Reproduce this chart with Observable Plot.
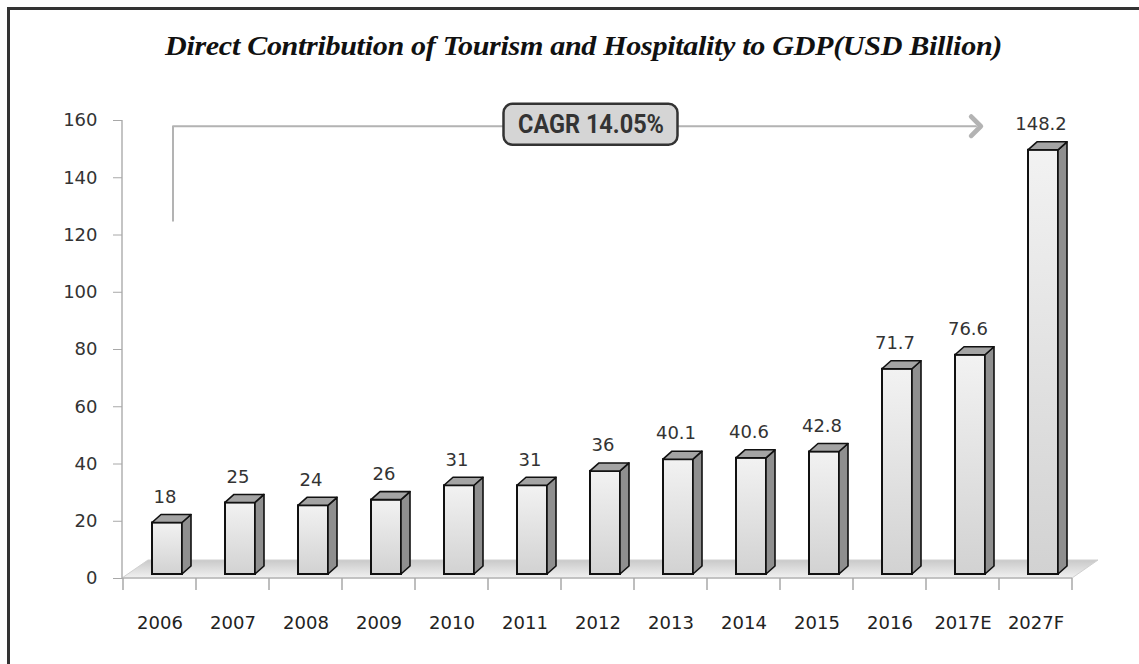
<!DOCTYPE html>
<html>
<head>
<meta charset="utf-8">
<script src="https://cdn.jsdelivr.net/npm/d3@7"></script>
<script src="https://cdn.jsdelivr.net/npm/@observablehq/plot@0.6"></script>
<style>
  html, body { margin: 0; padding: 0; background: #fff; }
  #wrap { position: relative; width: 1139px; height: 664px; overflow: hidden; }
  #border { position: absolute; left: 7px; top: 7px; right: -10px; bottom: -10px;
            border-left: 3px solid #333; border-top: 3px solid #333; }
  #title { position: absolute; top: 31px; left: 165px; transform-origin: 0 0;
           font-family: "Liberation Serif", serif; font-style: italic; font-weight: bold;
           font-size: 27px; color: #111; white-space: nowrap; letter-spacing: -0.3px; display: inline-block; }
  #chart { position: absolute; left: 0; top: 0; }
</style>
</head>
<body>
<div id="wrap">
  <div id="border"></div>
  <div id="chart"></div>
  <div id="title"></div>
</div>
<script>
const titleText = "Direct Contribution of Tourism and Hospitality to GDP(USD Billion)";
const years = ["2006","2007","2008","2009","2010","2011","2012","2013","2014","2015","2016","2017E","2027F"];
const values = [18, 25, 24, 26, 31, 31, 36, 40.1, 40.6, 42.8, 71.7, 76.6, 148.2];
const valueLabels = ["18","25","24","26","31","31","36","40.1","40.6","42.8","71.7","76.6","148.2"];
const yTicks = [0, 20, 40, 60, 80, 100, 120, 140, 160];
const cagrText = "CAGR 14.05%";
const cagrAt = {x: "2012", y: 158.5};
const arrowX = ["2006", "2006", "2017E"];
const arrowY = [125, 158, 158];

const data = years.map((y, i) => ({year: y, value: values[i], label: valueLabels[i]}));
const arrow = arrowX.map((x, i) => ({x, y: arrowY[i]}));

const NS = "http://www.w3.org/2000/svg";
function el(name, attrs) {
  const e = document.createElementNS(NS, name);
  for (const k in attrs) e.setAttribute(k, attrs[k]);
  return e;
}
const bwOf = (s) => typeof s.bandwidth === "function" ? s.bandwidth() : s.bandwidth;

const defsMark = () => {
  const defs = el("defs", {});
  const g1 = el("linearGradient", {id: "frontGrad", x1: 0, y1: 0, x2: 0, y2: 1});
  g1.appendChild(el("stop", {offset: "0%", "stop-color": "#f2f2f2"}));
  g1.appendChild(el("stop", {offset: "100%", "stop-color": "#d2d2d2"}));
  const g2 = el("linearGradient", {id: "floorGrad", x1: 0, y1: 0, x2: 0, y2: 1});
  g2.appendChild(el("stop", {offset: "0%", "stop-color": "#c9c9c9"}));
  g2.appendChild(el("stop", {offset: "100%", "stop-color": "#f1f1f1"}));
  defs.appendChild(g1); defs.appendChild(g2);
  return defs;
};

const floorMark = (index, scales, values, dims) => {
  const g = el("g", {});
  const x0 = dims.marginLeft, x1 = dims.width - dims.marginRight;
  const yb = dims.height - dims.marginBottom, yt = dims.marginTop;
  const ddx = 26, ddy = -18;
  g.appendChild(el("polygon", {points: `${x0},${yb} ${x1},${yb} ${x1+ddx},${yb+ddy} ${x0+ddx},${yb+ddy}`,
    fill: "url(#floorGrad)", stroke: "#d0d0d0", "stroke-width": 1}));
  g.appendChild(el("line", {x1: x0, x2: x1, y1: yb, y2: yb, stroke: "#b8b8b8", "stroke-width": 1.5}));
  g.appendChild(el("line", {x1: x0, x2: x0, y1: yt, y2: yb + 1, stroke: "#b0b0b0", "stroke-width": 1.5}));
  const bw = bwOf(scales.x);
  const xs = years.map(c => scales.x(c)).concat([scales.x(years[years.length-1]) + bw]);
  for (const x of xs) g.appendChild(el("line", {x1: x, x2: x, y1: yb, y2: yb + 12, stroke: "#a8a8a8", "stroke-width": 1.5}));
  return g;
};

const depthX = 9, depthY = -8;
function bar3d(index, scales, vals, dims, ctx, next) {
  const g = next(index, scales, vals, dims, ctx);
  const rects = Array.from(g.querySelectorAll("rect"));
  for (const r of rects) {
    const x = +r.getAttribute("x"), y = +r.getAttribute("y");
    const w = +r.getAttribute("width"), h = +r.getAttribute("height");
    const parent = r.parentNode;
    const side = el("polygon", {points: `${x+w},${y} ${x+w+depthX},${y+depthY} ${x+w+depthX},${y+h+depthY} ${x+w},${y+h}`,
      fill: "#8f8f8f", stroke: "#111", "stroke-width": 1.6, "stroke-linejoin": "round"});
    const top = el("polygon", {points: `${x},${y} ${x+depthX},${y+depthY} ${x+w+depthX},${y+depthY} ${x+w},${y}`,
      fill: "#a4a4a4", stroke: "#111", "stroke-width": 1.6, "stroke-linejoin": "round"});
    parent.appendChild(side);
    parent.appendChild(top);
  }
  return g;
}

const boxMark = (index, scales) => {
  const bw = bwOf(scales.x);
  const cx = scales.x(cagrAt.x) + bw / 2 - 7, cy = scales.y(cagrAt.y);
  const W = 174, H = 41;
  return el("rect", {x: cx - W/2, y: cy - H/2, width: W, height: H, rx: 9, ry: 9,
    fill: "#d5d5d5", stroke: "#333", "stroke-width": 2.5});
};

function fitText(len) {
  return function(index, scales, vals, dims, ctx, next) {
    const g = next(index, scales, vals, dims, ctx);
    for (const t of g.querySelectorAll("text")) {
      t.setAttribute("textLength", len);
      t.setAttribute("lengthAdjust", "spacingAndGlyphs");
    }
    return g;
  };
}

function bigArrow(index, scales, vals, dims, ctx, next) {
  const g = next(index, scales, vals, dims, ctx);
  for (const m of g.querySelectorAll("marker")) {
    m.setAttribute("markerWidth", 16);
    m.setAttribute("markerHeight", 16);
  }
  return g;
}

const chart = Plot.plot({
  width: 1139,
  height: 664,
  marginLeft: 122,
  marginRight: 67,
  marginTop: 120,
  marginBottom: 86,
  x: {type: "band", domain: years, padding: 0},
  y: {domain: [0, 160]},
  style: {fontFamily: "'DejaVu Sans', Verdana, sans-serif", fontSize: "18px", color: "#333", background: "transparent", overflow: "visible"},
  marks: [
    defsMark,
    floorMark,
    Plot.axisY({ticks: yTicks, tickSize: 9, tickPadding: 16, stroke: "#a8a8a8", fill: "#333", label: null, fontSize: 18}),
    Plot.axisX({tickSize: 0, tickPadding: 38, fill: "#222", label: null, fontSize: 18}),
    Plot.barY(data, {x: "year", y: "value", insetLeft: 29, insetRight: 14, dy: -4,
      fill: "url(#frontGrad)", stroke: "#111", strokeWidth: 2, render: bar3d}),
    Plot.text(data, {x: "year", y: "value", text: "label", dx: 5, dy: -30, fill: "#333", fontSize: 18}),
    Plot.line(arrow, {x: "x", y: "y", dx: 13, stroke: "#b3b3b3", strokeWidth: 2, markerEnd: "arrow", curve: "linear", render: bigArrow}),
    boxMark,
    Plot.text([cagrAt], {x: "x", y: "y", dx: -7, text: () => cagrText, fill: "#333", fontSize: 26, fontWeight: "bold",
      fontFamily: "'Liberation Sans Narrow', 'Arial Narrow', 'Roboto', sans-serif", render: fitText(146)})
  ]
});
document.getElementById("chart").appendChild(chart);

const titleEl = document.getElementById("title");
titleEl.textContent = titleText;
const tw = titleEl.getBoundingClientRect().width;
titleEl.style.transform = `scaleX(${837 / tw})`;
</script>
</body>
</html>
